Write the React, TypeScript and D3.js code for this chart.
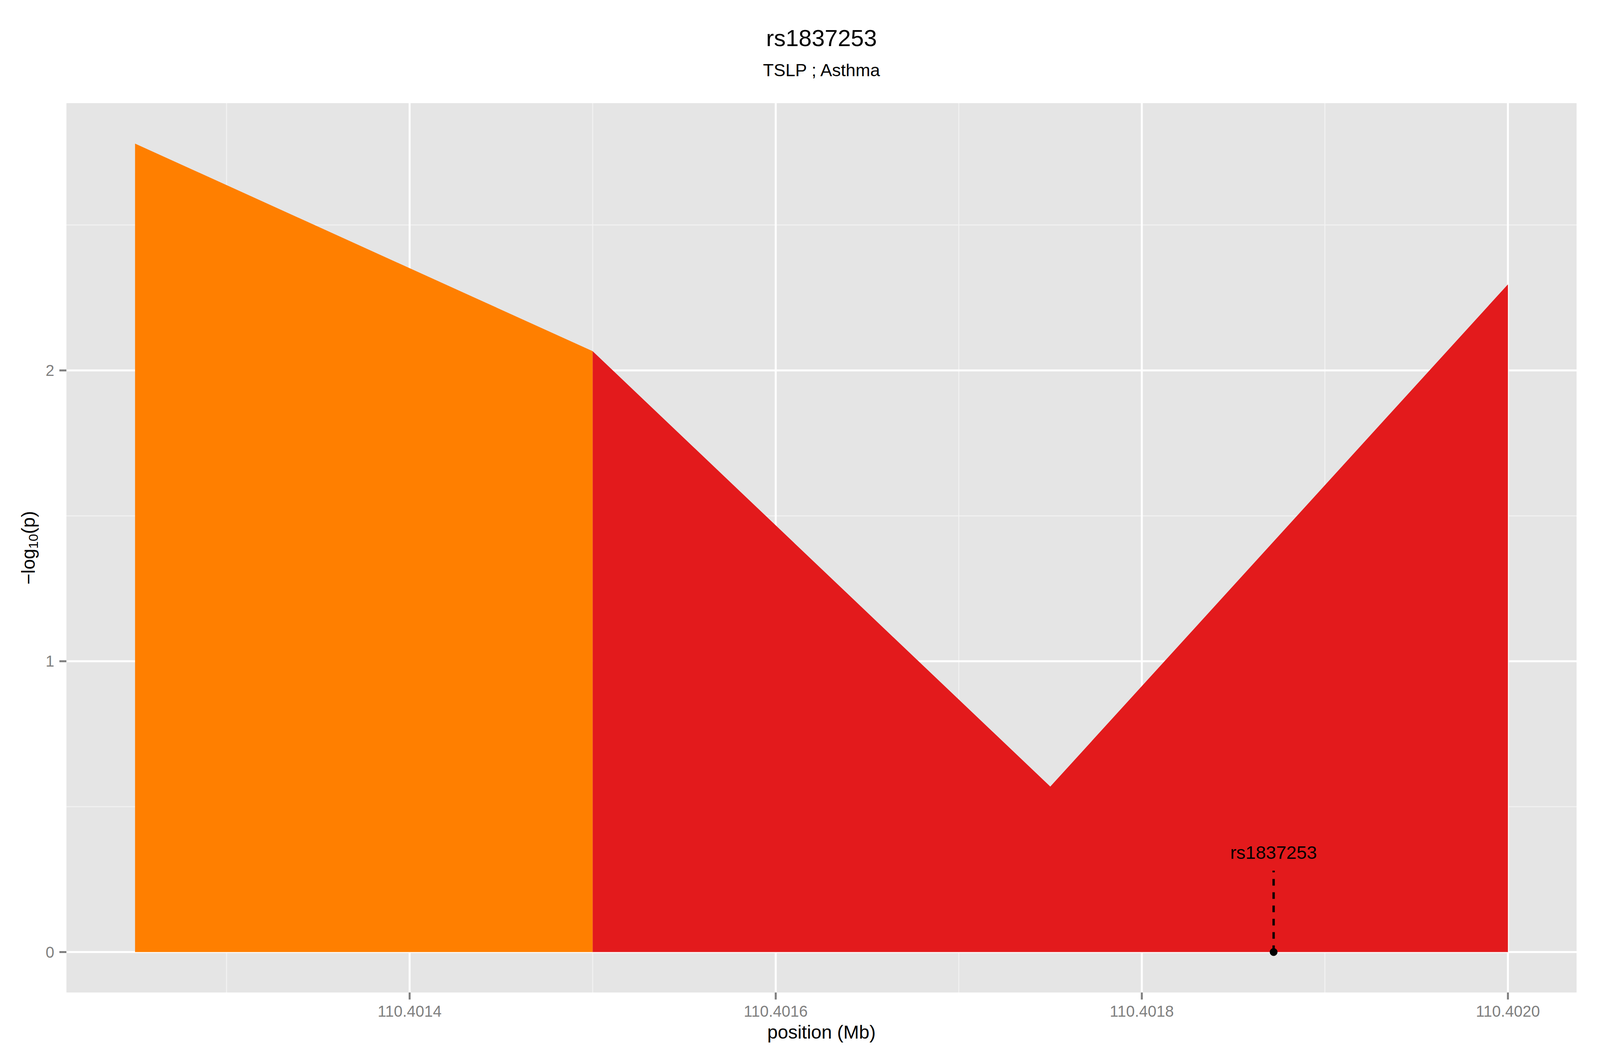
import React, { useEffect, useState } from 'react';
import * as d3 from 'd3';

// SNP positions (Mb) and association strength
const positions = [110.40125, 110.4015, 110.40175, 110.402];
const logP = [2.78, 2.066, 0.569, 2.296];
// point indices forming each filled area (LD group)
const areaGroups = [[0, 1], [1, 2, 3]];
const groupFills = ['#FF7F00', '#E31A1C'];

const xTicks = [110.4014, 110.4016, 110.4018, 110.402];
const xMinor = [110.4013, 110.4015, 110.4017, 110.4019];
const yTicks = [0, 1, 2];
const yMinor = [0.5, 1.5, 2.5];

const snpLabel = 'rs1837253';
const snpPos = 110.401872;
const snpLineTop = 0.28;
const snpLabelY = 0.32;

const margin = { left: 170, right: 60, top: 264, bottom: 160 };
const FONT = '"Liberation Sans", Arial, Helvetica, sans-serif';

const viewSize = () => ({
  w: typeof window !== 'undefined' && window.innerWidth ? window.innerWidth : 4800,
  h: typeof window !== 'undefined' && window.innerHeight ? window.innerHeight : 2700
});

const App: React.FC = () => {
  const [size, setSize] = useState(viewSize());
  useEffect(() => {
    document.body.style.margin = '0';
    document.body.style.overflow = 'hidden';
    const onResize = () => setSize(viewSize());
    window.addEventListener('resize', onResize);
    onResize();
    return () => window.removeEventListener('resize', onResize);
  }, []);
  const W = size.w;
  const H = size.h;

  const [x0, x1] = d3.extent(positions) as [number, number];
  const xPad = (x1 - x0) * 0.05;
  const yMax = d3.max(logP) as number;
  const yPad = yMax * 0.05;
  const x = d3.scaleLinear().domain([x0 - xPad, x1 + xPad]).range([margin.left, W - margin.right]);
  const y = d3.scaleLinear().domain([-yPad, yMax + yPad]).range([H - margin.bottom, margin.top]);
  const [pl, pr] = x.range();
  const [pb, pt] = y.range();
  const cx = (pl + pr) / 2;

  const area = d3.area<number>().x(i => x(positions[i])).y0(y(0)).y1(i => y(logP[i]));

  return <svg width={W} height={H} style={{ position: 'fixed', left: 0, top: 0, display: 'block', background: '#fff' }} fontFamily={FONT}>
      <text x={cx} y={118} textAnchor="middle" fontSize={60}>rs1837253</text>
      <text x={cx} y={195} textAnchor="middle" fontSize={45}>TSLP ; Asthma</text>

      <rect x={pl} y={pt} width={pr - pl} height={pb - pt} fill="#E5E5E5" />
      {xMinor.map(v => <line key={'xm' + v} x1={x(v)} x2={x(v)} y1={pt} y2={pb} stroke="#F2F2F2" strokeWidth={2.5} />)}
      {yMinor.map(v => <line key={'ym' + v} y1={y(v)} y2={y(v)} x1={pl} x2={pr} stroke="#F2F2F2" strokeWidth={2.5} />)}
      {xTicks.map(v => <line key={'xg' + v} x1={x(v)} x2={x(v)} y1={pt} y2={pb} stroke="#fff" strokeWidth={5} />)}
      {yTicks.map(v => <line key={'yg' + v} y1={y(v)} y2={y(v)} x1={pl} x2={pr} stroke="#fff" strokeWidth={5} />)}

      {areaGroups.map((g, i) => <path key={'a' + i} d={area(g) || ''} fill={groupFills[i]} />)}

      <line x1={x(snpPos)} x2={x(snpPos)} y1={y(0)} y2={y(snpLineTop)} stroke="#000" strokeWidth={6} strokeDasharray="17,17" />
      <circle cx={x(snpPos)} cy={y(0)} r={10} fill="#000" />
      <text x={x(snpPos)} y={y(snpLabelY)} textAnchor="middle" fontSize={47}>{snpLabel}</text>

      {xTicks.map(v => <g key={'xt' + v}>
          <line x1={x(v)} x2={x(v)} y1={pb} y2={pb + 18} stroke="#7F7F7F" strokeWidth={5} />
          <text x={x(v)} y={pb + 62} textAnchor="middle" fontSize={40} fill="#7F7F7F">{d3.format('.4f')(v)}</text>
        </g>)}
      {yTicks.map(v => <g key={'yt' + v}>
          <line x1={pl - 18} x2={pl} y1={y(v)} y2={y(v)} stroke="#7F7F7F" strokeWidth={5} />
          <text x={pl - 31} y={y(v) + 14} textAnchor="end" fontSize={40} fill="#7F7F7F">{v}</text>
        </g>)}

      <text x={cx} y={pb + 118} textAnchor="middle" fontSize={48}>position (Mb)</text>
      <text transform={`translate(89,${(pt + pb) / 2}) rotate(-90)`} textAnchor="middle" fontSize={48}>
        −log<tspan fontSize={34} dy={8}>10</tspan><tspan dy={-8}>(p)</tspan>
      </text>
    </svg>;
};

export default App;
